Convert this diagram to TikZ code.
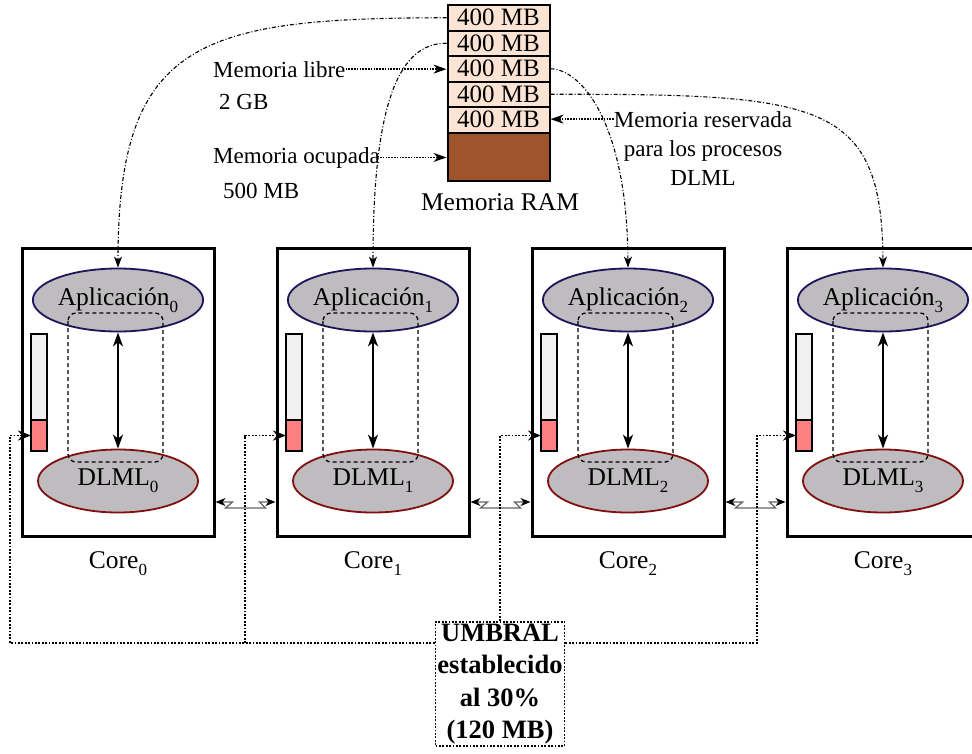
\documentclass[tikz,border=0pt]{standalone}
\usepackage{fontspec}
\setmainfont{Liberation Serif}
\usetikzlibrary{arrows.meta,shapes.geometric,calc}

\definecolor{ramfree}{RGB}{252,228,212}
\definecolor{ramused}{RGB}{160,84,44}
\definecolor{procfill}{RGB}{190,188,190}
\definecolor{appedge}{RGB}{30,20,90}
\definecolor{dlmledge}{RGB}{128,16,16}
\definecolor{barempty}{RGB}{240,240,240}
\definecolor{barfull}{RGB}{255,128,128}
\definecolor{zigline}{RGB}{100,100,100}

% lowered index digit for process / core names
\newcommand\idx[1]{\raisebox{-0.28em}{\fontsize{17}{17}\selectfont #1}}

\begin{document}
\begin{tikzpicture}[x=1pt,y=-1pt,
  big/.style={font=\fontsize{25.5}{30}\selectfont},
  note/.style={font=\fontsize{23}{29}\selectfont, inner sep=0pt},
  ramcell/.style={draw, line width=2pt, fill=ramfree, minimum width=102pt,
    minimum height=25.5pt, inner sep=0pt, font=\fontsize{25}{30}\selectfont},
  corebox/.style={draw, line width=3pt, minimum width=192pt,
    minimum height=288pt, inner sep=0pt},
  proc/.style={ellipse, draw, line width=1.8pt, fill=procfill,
    minimum width=160pt, minimum height=63pt, inner sep=0pt, big},
  barbox/.style={draw, line width=1.6pt, minimum width=16pt, inner sep=0pt,
    outer sep=0pt},
  link/.style={line width=1.7pt,
    {Stealth[length=14pt,width=10pt,inset=4pt]}-{Stealth[length=14pt,width=10pt,inset=4pt]}},
  group/.style={line width=1.3pt, dash pattern=on 4pt off 3pt,
    rounded corners=8pt},
  zig/.style={draw=zigline, line width=1.3pt,
    {Stealth[black,length=10pt,width=8pt,inset=3pt]}-{Stealth[black,length=10pt,width=8pt,inset=3pt]}},
  thr/.style={line width=1.8pt, dash pattern=on 1.8pt off 1.6pt,
    -{Stealth[length=13pt,width=10pt,inset=4pt]}},
  pointer/.style={line width=1.5pt, dash pattern=on 1.5pt off 1.3pt,
    -{Stealth[length=13pt,width=9pt,inset=4pt]}},
  feed/.style={line width=1.1pt, dash pattern=on 4pt off 2pt on 1pt off 2pt,
    -{Stealth[length=11pt,width=8pt,inset=3pt]}},
  umbral/.style={draw, line width=1.8pt, dash pattern=on 1.8pt off 1.6pt,
    align=center, font=\fontsize{26.5}{32.5}\selectfont\bfseries,
    minimum width=129pt, minimum height=124pt, inner sep=1pt}
]
\useasboundingbox (0,0) rectangle (972,753);
\clip (0,0) rectangle (972,753);

% ---------------- RAM stack ----------------
\node[ramcell] (r1) at (498.5,17.75)  {400 MB};
\node[ramcell] (r2) at (498.5,43.25)  {400 MB};
\node[ramcell] (r3) at (498.5,68.75)  {400 MB};
\node[ramcell] (r4) at (498.5,94.25)  {400 MB};
\node[ramcell] (r5) at (498.5,119.75) {400 MB};
\node[draw, line width=2pt, fill=ramused, minimum width=102pt,
  minimum height=48.5pt, inner sep=0pt] (used) at (498.5,156.75) {};
\node[big, anchor=base] (ramlabel) at (500,210) {Memoria RAM};

% ---------------- annotations ----------------
\node[note, anchor=base west] (libre) at (213,77) {Memoria libre};
\node[note, anchor=base west] (libreval) at (219,109) {2 GB};
\node[note, anchor=base west] (ocup) at (213,163) {Memoria ocupada};
\node[note, anchor=base west] (ocupval) at (223,198) {500 MB};
\node[note, anchor=base] (res1) at (703,127) {Memoria reservada};
\node[note, anchor=base] (res2) at (703,156) {para los procesos};
\node[note, anchor=base] (res3) at (703,185) {DLML};

\draw[pointer] (libre.east) -- (libre.east -| r3.west);
\draw[pointer] (ocup.east) -- (ocup.east -| used.west);
\draw[pointer] (res1.west) -- (res1.west -| r5.east);

% ---------------- cores ----------------
\foreach \i in {0,1,2,3}{
  \pgfmathsetmacro\cx{118+255*\i}
  \node[corebox] (core\i) at (\cx,392) {};
  \node[proc, draw=appedge] (app\i) at (\cx,300) {Aplicación\idx{\i}};
  \node[proc, draw=dlmledge] (dlml\i) at (\cx,481) {DLML\idx{\i}};
  \draw[group] (\cx-50,313) rectangle (\cx+45,462);
  \draw[link] (app\i.south) -- (dlml\i.north);
  \node[barbox, fill=barempty, minimum height=117pt, anchor=north west]
    (bar\i) at (\cx-87,334) {};
  \node[barbox, fill=barfull, minimum height=31pt, anchor=south]
    (lvl\i) at (bar\i.south) {};
  \node[big, anchor=base] (lab\i) at (\cx,568) {Core\idx{\i}};
}

% links between neighbouring cores
\foreach \i/\j in {0/1,1/2,2/3}{
  \draw[zig] (core\i.east |- 0,502) -- ++(17,0) -- ++(-7,6) -- ++(40,0)
    -- ++(-6,-6) -- (core\j.west |- 0,502);
}

% ---------------- RAM blocks handed to the applications ----------------
\draw[feed] (r1.west) .. controls (200,18) and (118,40) .. (app0.north);
\draw[feed] (r2.west) .. controls (400,43) and (373,100) .. (app1.north);
\draw[feed] (r3.east) .. controls (580,69) and (627,120) .. (app2.north);
\draw[feed] (r4.east) .. controls (820,94) and (882,100) .. (app3.north);

% ---------------- threshold ----------------
\node[umbral] (umb) at (500,684) {UMBRAL\\establecido\\al 30\%\\(120 MB)};

\draw[thr] (umb.west |- 0,643) -- (10,643) |- (lvl0.west);
\draw[thr] (245,643) |- (lvl1.west);
\draw[thr] (umb.north) |- (lvl2.west);
\draw[thr] (umb.east |- 0,643) -- (757,643) |- (lvl3.west);
\end{tikzpicture}
\end{document}
